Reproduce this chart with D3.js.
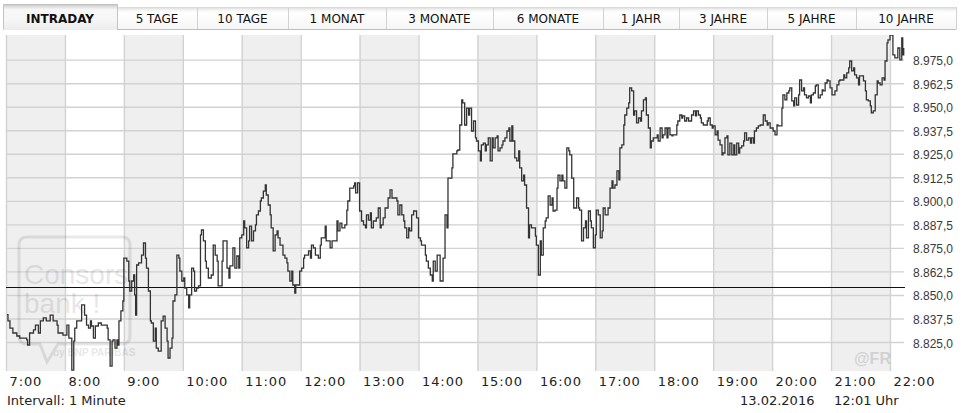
<!DOCTYPE html>
<html><head><meta charset="utf-8">
<script src="https://cdn.jsdelivr.net/npm/d3@7/dist/d3.min.js"></script>
<style>
html,body{margin:0;padding:0;background:#fff;}
svg{display:block;}
</style></head><body>
<svg id="c" width="962" height="413"></svg>
<script>
// ---------- DATA ----------
const tabLabels = ["INTRADAY","5 TAGE","10 TAGE","1 MONAT","3 MONATE","6 MONATE","1 JAHR","3 JAHRE","5 JAHRE","10 JAHRE"];
const hourLabels = ["7:00","8:00","9:00","10:00","11:00","12:00","13:00","14:00","15:00","16:00","17:00","18:00","19:00","20:00","21:00","22:00"];
const yTicks = [8825,8837.5,8850,8862.5,8875,8887.5,8900,8912.5,8925,8937.5,8950,8962.5,8975];
const previousClose = 8854.0;
const infoInterval = "Intervall: 1 Minute";
const infoDate = "13.02.2016";
const infoTime = "12:01 Uhr";
const times = [
"07:01","07:02","07:04","07:07","07:11","07:14","07:21","07:22","07:24","07:28","07:30","07:33","07:35","07:38","07:41","07:45","07:48","07:52","07:53","07:58",
"08:02","08:04","08:07","08:09","08:10","08:12","08:17","08:20","08:22","08:24","08:26","08:27","08:29","08:31","08:34","08:37","08:43","08:44","08:46","08:48","08:49","08:51","08:53","08:54","08:55","08:57","08:59",
"09:00","09:03","09:05","09:06","09:08","09:10","09:11","09:12","09:13","09:15","09:18","09:20","09:22","09:23","09:25","09:27","09:28","09:30","09:32","09:33","09:35","09:38","09:40","09:42","09:44","09:45","09:47","09:49","09:50","09:52","09:54","09:56","09:57","09:59",
"10:01","10:02","10:04","10:06","10:07","10:09","10:11","10:12","10:14","10:16","10:18","10:19","10:21","10:23","10:24","10:26","10:29","10:31","10:33","10:35","10:36","10:40","10:41","10:45","10:47","10:48","10:51","10:53","10:55","10:57","10:58",
"11:00","11:02","11:03","11:05","11:07","11:08","11:10","11:12","11:14","11:15","11:17","11:19","11:20","11:22","11:24","11:25","11:27","11:29","11:30","11:32","11:34","11:36","11:37","11:39","11:42","11:44","11:46","11:47","11:49","11:51","11:52","11:54","11:55","11:59",
"12:01","12:03","12:04","12:08","12:10","12:11","12:13","12:15","12:18","12:20","12:21","12:25","12:26","12:30","12:32","12:37","12:38","12:40","12:42","12:45","12:47","12:48","12:50","12:54","12:55","12:56","12:58",
"13:00","13:02","13:04","13:06","13:07","13:09","13:11","13:12","13:14","13:17","13:19","13:21","13:22","13:24","13:26","13:29","13:31","13:33","13:38","13:39","13:41","13:43","13:45","13:46","13:48","13:50","13:51","13:53","13:55","13:58",
"14:00","14:02","14:03","14:07","14:08","14:10","14:12","14:14","14:15","14:17","14:19","14:22","14:25","14:27","14:29","14:30","14:34","14:35","14:39","14:40","14:42","14:44","14:45","14:47","14:49","14:51","14:52","14:54","14:56","14:58","14:59",
"15:01","15:03","15:04","15:06","15:08","15:09","15:11","15:13","15:15","15:16","15:18","15:20","15:21","15:23","15:25","15:26","15:28","15:30","15:32","15:33","15:35","15:36","15:38","15:40","15:42","15:43","15:45","15:47","15:48","15:50","15:52","15:53","15:55","15:59",
"16:00","16:02","16:04","16:05","16:07","16:09","16:10","16:12","16:14","16:16","16:17","16:19","16:21","16:22","16:24","16:26","16:27","16:29","16:31","16:33","16:34","16:36","16:38","16:41","16:43","16:44","16:46","16:48","16:50","16:51","16:53","16:55","16:56","16:58",
"17:00","17:01","17:03","17:05","17:07","17:08","17:10","17:13","17:15","17:17","17:18","17:20","17:22","17:24","17:25","17:27","17:29","17:30","17:32","17:34","17:35","17:37","17:39","17:40","17:42","17:44","17:46","17:47","17:49","17:51","17:52","17:54","17:56","17:57","17:59",
"18:03","18:04","18:06","18:08","18:09","18:11","18:13","18:14","18:16","18:18","18:19","18:23","18:24","18:26","18:28","18:29","18:31","18:33","18:35","18:38","18:40","18:42","18:43","18:45","18:47","18:48","18:50","18:54","18:55","18:57","18:59",
"19:00","19:02","19:04","19:05","19:07","19:09","19:10","19:12","19:14","19:15","19:17","19:19","19:21","19:22","19:24","19:26","19:27","19:29","19:31","19:32","19:34","19:36","19:38","19:39","19:41","19:42","19:44","19:46","19:48","19:51","19:53","19:55","19:56","19:58",
"20:01","20:03","20:05","20:06","20:10","20:11","20:13","20:15","20:17","20:18","20:20","20:22","20:23","20:25","20:27","20:28","20:30","20:32","20:33","20:35","20:37","20:39","20:40","20:42","20:44","20:45","20:47","20:49","20:51","20:52","20:54","20:56","20:57","20:59",
"21:01","21:04","21:06","21:08","21:09","21:13","21:14","21:16","21:18","21:19","21:21","21:23","21:24","21:26","21:28","21:29","21:33","21:35","21:36","21:38","21:40","21:41","21:43","21:45","21:47","21:48","21:50","21:52","21:54","21:55","21:57","21:58",
"22:00","22:03","22:05","22:08","22:10","22:12","22:13","22:14"
];
const prices = [
8839.5,8836.2,8832.4,8829.8,8828.2,8827.1,8826.1,8823.4,8829.8,8831.4,8834.0,8829.8,8836.2,8837.8,8836.2,8839.3,8836.2,8834.0,8829.8,8828.7,
8834.0,8827.1,8810.1,8825.5,8832.4,8836.2,8844.7,8839.3,8834.0,8832.4,8836.2,8833.5,8827.1,8833.5,8835.1,8834.0,8832.4,8826.1,8812.2,8825.5,8826.1,8821.8,8826.1,8823.4,8836.2,8841.5,8846.8,
8869.6,8868.0,8857.4,8852.1,8857.4,8860.6,8850.0,8839.3,8865.9,8867.0,8871.2,8877.6,8869.6,8864.3,8852.1,8836.2,8835.1,8825.5,8832.4,8821.8,8820.2,8836.2,8838.8,8832.4,8825.5,8816.5,8821.8,8827.1,8846.8,8850.0,8871.2,8869.6,8862.7,8857.4,
8859.0,8853.7,8850.0,8843.1,8850.0,8864.3,8862.7,8852.1,8853.7,8854.8,8881.9,8884.5,8878.7,8868.0,8864.3,8859.0,8860.6,8876.5,8871.2,8868.0,8854.8,8868.0,8878.7,8864.3,8859.0,8865.4,8875.0,8864.3,8870.7,8864.3,8880.3,
8881.9,8889.3,8885.6,8875.0,8878.7,8886.6,8878.7,8884.0,8887.2,8892.5,8894.6,8899.9,8901.5,8905.2,8908.4,8903.1,8897.8,8892.5,8885.6,8873.4,8881.9,8884.0,8880.3,8876.5,8871.2,8869.6,8867.0,8862.7,8857.4,8862.7,8855.3,8851.0,8855.3,8862.7,
8864.3,8869.6,8871.2,8873.4,8869.6,8876.5,8875.0,8871.2,8869.6,8876.5,8880.3,8886.6,8878.7,8875.0,8878.7,8889.3,8884.0,8888.2,8885.6,8887.2,8895.1,8899.9,8906.8,8907.9,8909.5,8904.2,8909.5,
8894.6,8889.3,8887.2,8885.6,8892.5,8889.8,8893.6,8885.6,8889.3,8890.9,8896.2,8885.6,8887.2,8890.9,8896.2,8901.5,8905.8,8901.5,8899.9,8892.5,8897.8,8892.5,8889.3,8885.6,8880.3,8885.6,8884.0,8892.5,8894.6,8890.9,
8880.3,8878.7,8876.5,8871.2,8868.0,8864.3,8860.6,8857.4,8868.0,8862.7,8871.2,8857.4,8869.6,8892.5,8885.6,8912.1,8917.5,8924.9,8926.5,8927.0,8940.3,8953.6,8952.0,8940.3,8949.3,8945.6,8949.3,8937.1,8942.4,8933.4,8931.8,
8926.5,8921.2,8929.7,8930.7,8926.5,8929.7,8933.4,8921.2,8933.4,8928.1,8933.4,8934.5,8926.5,8928.1,8929.7,8931.8,8933.4,8937.1,8938.7,8931.8,8939.8,8931.8,8922.8,8921.2,8926.5,8917.5,8910.6,8913.7,8908.4,8896.2,8880.3,8887.2,8885.6,8881.3,
8876.5,8860.6,8878.7,8871.2,8885.6,8889.3,8890.9,8902.6,8897.8,8901.5,8894.6,8895.1,8906.8,8913.7,8910.6,8913.7,8910.6,8906.8,8928.1,8926.5,8924.4,8912.1,8896.2,8901.5,8896.2,8895.1,8878.7,8885.6,8889.3,8880.3,8894.6,8889.3,8885.6,8875.0,
8881.9,8895.1,8892.5,8880.3,8884.0,8896.2,8892.5,8896.2,8906.8,8910.6,8906.8,8908.4,8915.9,8911.1,8928.1,8929.7,8940.3,8945.6,8949.3,8952.0,8960.0,8958.4,8945.6,8947.8,8941.4,8944.0,8942.4,8947.8,8953.6,8954.7,8945.6,8938.7,8928.1,8931.8,8933.4,
8935.0,8931.8,8938.7,8933.4,8935.0,8938.7,8933.4,8938.7,8935.0,8934.5,8935.0,8940.3,8942.4,8945.6,8944.0,8945.1,8942.4,8944.0,8942.4,8945.6,8947.8,8945.1,8947.8,8945.6,8944.0,8941.4,8940.3,8942.4,8944.0,8940.3,8938.7,
8939.8,8935.0,8937.1,8932.3,8929.7,8924.4,8925.4,8933.4,8934.5,8924.4,8930.7,8924.4,8929.7,8924.4,8930.7,8925.4,8928.1,8929.2,8931.8,8936.1,8932.3,8933.4,8930.7,8933.4,8930.7,8937.1,8938.7,8939.8,8940.3,8945.6,8942.4,8940.3,8941.4,8938.7,
8937.1,8935.0,8940.3,8939.8,8949.3,8956.3,8953.6,8957.3,8958.4,8960.0,8953.1,8950.4,8954.7,8950.9,8956.3,8964.2,8958.4,8960.0,8956.3,8954.7,8955.7,8952.0,8956.3,8957.3,8961.0,8961.6,8954.7,8956.3,8958.9,8958.4,8962.6,8964.2,8963.7,8960.0,
8956.3,8958.4,8961.6,8963.7,8964.2,8966.9,8965.3,8968.0,8970.6,8974.3,8969.0,8970.6,8966.9,8965.3,8961.6,8966.4,8963.7,8958.4,8953.6,8953.1,8950.4,8946.7,8947.8,8956.3,8963.7,8962.6,8961.6,8965.3,8964.2,8974.3,8983.9,8985.5,
8988.1,8977.5,8975.9,8981.2,8974.9,8986.5,8977.5,8981.2
];

// ---------- LAYOUT ----------
const TAB_EDGES = [3,117,197,288,386,493,603,679,767,856,956];
const PLOT = {left:6, right:904.7, top:35, bottom:371};
const GRID_RIGHT = 904;

const svg = d3.select("#c");
const parseT = d3.timeParse("%H:%M");
const de = d3.formatLocale({decimal:",", thousands:".", grouping:[3], currency:["","€"]});
const fmt = de.format(",.1f");

const x = d3.scaleTime().domain([parseT("07:00"), parseT("22:15")]).range([PLOT.left, PLOT.right]);
const y = d3.scaleLinear().domain([8809.6, 8988.1]).range([PLOT.bottom, PLOT.top]);

const defs = svg.append("defs");
const gi = defs.append("linearGradient").attr("id","gIn").attr("x1",0).attr("y1",0).attr("x2",0).attr("y2",1);
[[0,"#d6d6d6"],[0.12,"#f2f2f2"],[0.25,"#ffffff"],[1,"#f6f6f6"]].forEach(s=>gi.append("stop").attr("offset",s[0]).attr("stop-color",s[1]));
const ga = defs.append("linearGradient").attr("id","gAct").attr("x1",0).attr("y1",0).attr("x2",0).attr("y2",1);
[[0,"#bdbdbd"],[0.1,"#dedede"],[0.22,"#f7f7f7"],[0.6,"#f6f6f6"],[1,"#ececec"]].forEach(s=>ga.append("stop").attr("offset",s[0]).attr("stop-color",s[1]));
defs.append("clipPath").attr("id","plotClip").append("rect")
  .attr("x",PLOT.left).attr("y",PLOT.top).attr("width",PLOT.right-PLOT.left+1).attr("height",PLOT.bottom-PLOT.top);

// ---------- TABS ----------
const tabsG = svg.append("g");
tabLabels.forEach((t,i)=>{
  const x0 = TAB_EDGES[i], x1 = TAB_EDGES[i+1];
  const active = i===0;
  const top = active ? 4 : 7, bot = active ? 30 : 29.5;
  tabsG.append("rect").attr("x",x0).attr("y",top).attr("width",x1-x0).attr("height",bot-top)
    .attr("fill", active ? "url(#gAct)" : "url(#gIn)");
  tabsG.append("text").attr("x",(x0+x1)/2).attr("y",22.7).attr("text-anchor","middle")
    .attr("font-family","DejaVu Sans, Verdana, sans-serif").attr("font-size",12)
    .attr("font-weight", active ? "bold" : "normal").attr("fill","#111").text(t);
});
// separators
TAB_EDGES.forEach((e,i)=>{
  const top = (i<=1) ? 4 : 7;
  tabsG.append("line").attr("x1",e+0.5).attr("x2",e+0.5).attr("y1",top).attr("y2",29.5)
    .attr("stroke", i<=1 ? "#c4c4c4" : "#d2d2d2").attr("stroke-width",1);
});
tabsG.append("line").attr("x1",TAB_EDGES[1]).attr("x2",TAB_EDGES[10]).attr("y1",29.5).attr("y2",29.5)
  .attr("stroke","#bdbdbd").attr("stroke-width",1);

// ---------- PLOT BACKGROUND ----------
const hours = hourLabels.map(parseT);
const bg = svg.append("g");
hours.forEach((h,i)=>{
  if (i%2===0 && i+1<hours.length) {
    bg.append("rect").attr("x",x(h)).attr("y",PLOT.top).attr("width",x(hours[i+1])-x(h))
      .attr("height",PLOT.bottom-PLOT.top).attr("fill","#efefef");
  }
});

// Y axis with gridlines
const yAxis = d3.axisRight(y).tickValues(yTicks).tickFormat(fmt)
  .tickSize(GRID_RIGHT-PLOT.left).tickPadding(9);
const yg = svg.append("g").attr("transform",`translate(${PLOT.left},0)`).call(yAxis);
yg.select(".domain").remove();
yg.selectAll(".tick line").attr("stroke","#d2d2d2").attr("stroke-width",1.4);
yg.selectAll(".tick text").attr("font-family","Liberation Sans, Arial, sans-serif")
  .attr("font-size",12).attr("fill","#3a3a3a").attr("dy","0.42em");

// X axis with vertical gridlines
const xAxis = d3.axisBottom(x).tickValues(hours).tickFormat((d,i)=>hourLabels[i])
  .tickSize(PLOT.bottom-PLOT.top).tickPadding(0);
const xg = svg.append("g").attr("transform",`translate(0,${PLOT.top})`).call(xAxis);
xg.select(".domain").remove();
xg.selectAll(".tick line").attr("stroke","#d2d2d2").attr("stroke-width",1.4);
xg.selectAll(".tick text").attr("text-anchor","start").attr("x",3)
  .attr("y",386-PLOT.top).attr("dy",0)
  .attr("font-family","DejaVu Sans, Verdana, sans-serif").attr("font-size",13)
  .attr("letter-spacing","0.9px").attr("fill","#222");

// ---------- WATERMARK ----------
const wm = svg.append("g").attr("opacity",0.09);
wm.append("path").attr("d","M27,237 H122 Q130,237 130,245 V336 Q130,344 122,344 H58 L47,362 L40,344 H27 Q19,344 19,336 V245 Q19,237 27,237 Z")
  .attr("fill","none").attr("stroke","#000").attr("stroke-width",3);
wm.append("text").attr("x",24).attr("y",284).attr("font-family","Liberation Sans, Arial, sans-serif")
  .attr("font-size",28).attr("fill","#000").text("Consors");
wm.append("text").attr("x",24).attr("y",313).attr("font-family","Liberation Sans, Arial, sans-serif")
  .attr("font-size",28).attr("fill","#000").text("bank !");
wm.append("text").attr("x",53).attr("y",356).attr("font-family","Liberation Sans, Arial, sans-serif")
  .attr("font-size",10).attr("font-weight","bold").attr("fill","#000").text("by BNP PARIBAS");
svg.append("text").attr("x",854).attr("y",364).attr("font-family","Liberation Sans, Arial, sans-serif")
  .attr("font-size",16).attr("font-weight","bold").attr("fill","#000").attr("opacity",0.12).text("@FR");

// ---------- REFERENCE LINE ----------
svg.append("line").attr("x1",PLOT.left).attr("x2",GRID_RIGHT+1).attr("y1",Math.round(y(previousClose))+0.5)
  .attr("y2",Math.round(y(previousClose))+0.5).attr("stroke","#111").attr("stroke-width",1.2);

// ---------- PRICE LINE ----------
const series = times.map((t,i)=>({t:parseT(t), v:prices[i]}));
const line = d3.line().x(d=>x(d.t)).y(d=>y(d.v)).curve(d3.curveStepAfter);
svg.append("path").datum(series).attr("clip-path","url(#plotClip)")
  .attr("d",line).attr("fill","none").attr("stroke","#333").attr("stroke-width",1.3)
  .attr("stroke-linejoin","miter");

// ---------- FOOTER ----------
const foot = svg.append("g").attr("font-family","DejaVu Sans, Verdana, sans-serif").attr("font-size",13).attr("fill","#222");
foot.append("text").attr("x",7).attr("y",404.5).text(infoInterval);
foot.append("text").attr("x",740).attr("y",404.5).text(infoDate);
foot.append("text").attr("x",834).attr("y",404.5).text(infoTime);
</script>
</body></html>
